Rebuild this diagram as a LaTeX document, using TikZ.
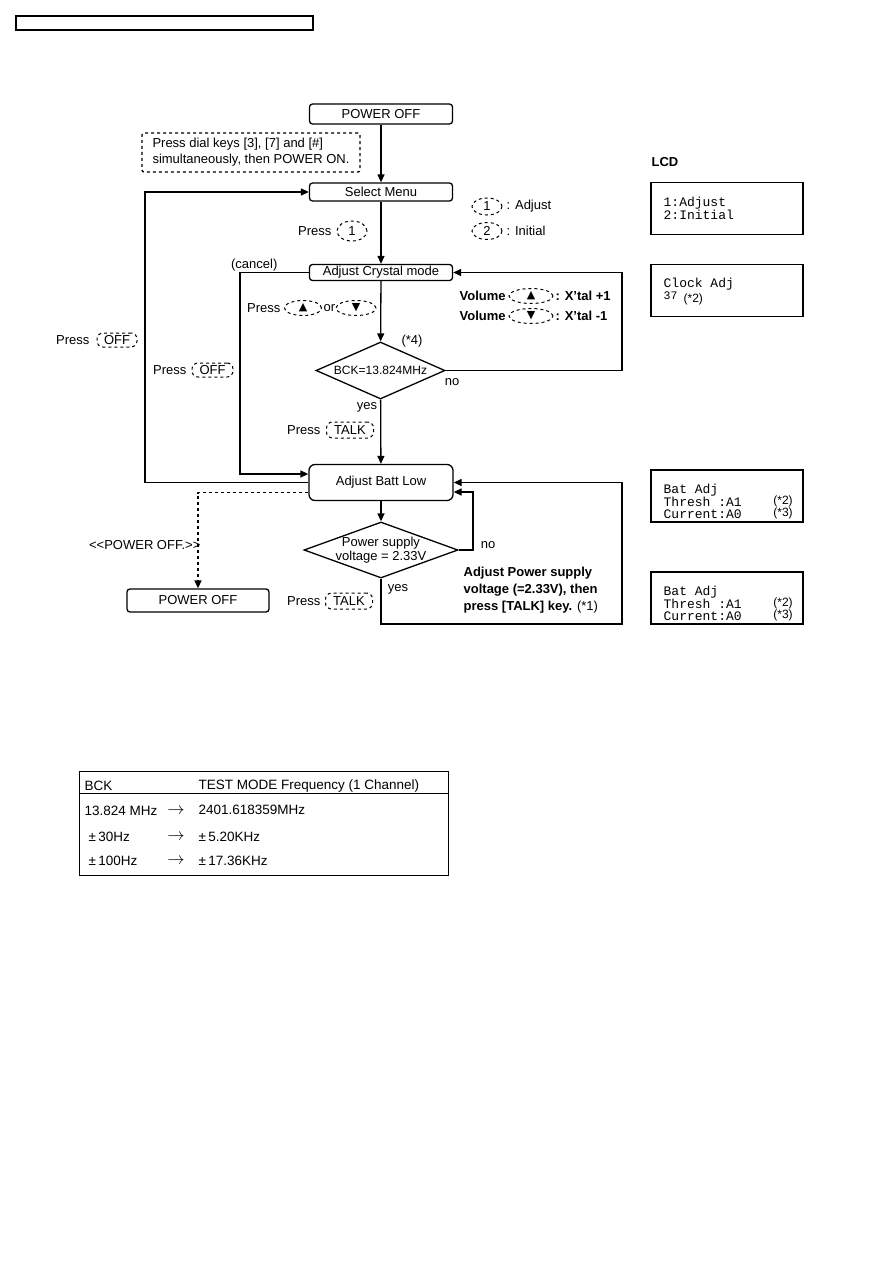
\documentclass[tikz,border=0pt]{standalone}
\usepackage{fontspec}
\setmainfont{Liberation Sans}
\setmonofont{Liberation Mono}
\newfontfamily\symfont{DejaVu Sans}
\usetikzlibrary{arrows.meta,shapes.geometric}
\newcommand{\symup}{{\symfont\fontsize{11}{11}\selectfont ▲}}
\newcommand{\symdn}{{\symfont\fontsize{11}{11}\selectfont ▼}}

\begin{document}
\begin{tikzpicture}[x=1pt,y=-1pt,>={Triangle[length=8pt,width=7pt]},line width=1.3pt,
 font=\fontsize{13}{14}\selectfont,
 lbl/.style={inner sep=0pt},
 bold/.style={font=\fontsize{13}{17}\selectfont\bfseries},
 stepbox/.style={draw,rounded corners=3pt,minimum width=143pt,minimum height=18pt,inner sep=0pt},
 decide/.style={draw,diamond,inner sep=0pt},
 keyoval/.style={draw,dashed,line width=1pt,ellipse,inner sep=0pt,minimum width=30pt,minimum height=17pt},
 keybtn/.style={draw,dashed,line width=1pt,rounded corners=6pt,inner sep=0pt,minimum width=42pt,minimum height=15pt},
 lcdbox/.style={draw,minimum width=152pt,minimum height=52pt,inner sep=0pt},
 lcdtxt/.style={font=\ttfamily\fontsize{13}{12}\selectfont,align=left,anchor=west,inner sep=0pt},
 note/.style={font=\fontsize{12}{13}\selectfont,inner sep=0pt},
 tabarrow/.style={inner sep=0pt,font=\fontsize{18}{18}\selectfont}]
\useasboundingbox (0,0) rectangle (893,1263);
\node[draw,minimum width=297pt,minimum height=14pt,inner sep=0pt] (header) at (164.5,23) {};

% flow chart
\node[stepbox,minimum height=20pt] (pwroff) at (381,114) {POWER OFF};
\node[draw,dashed,rounded corners=2pt,minimum width=218pt,minimum height=39pt,align=left,inner sep=0pt,font=\fontsize{13}{16}\selectfont] (dialnote) at (251,152.5) {Press dial keys [3], [7] and [\#]\\simultaneously, then POWER ON.};
\node[stepbox] (selmenu) at (381,192) {Select Menu};
\node[lbl,anchor=east] (press1) at (332,231) {Press};
\node[keyoval,minimum height=20pt] (key1) at (352,231) {1};
\node[keyoval] (legA) at (487,206.5) {1};
\node[lbl,anchor=west] (legAtxt) at (506,206.5) {: Adjust};
\node[keyoval] (legB) at (487,231) {2};
\node[lbl,anchor=west] (legBtxt) at (506,231) {: Initial};

\node[stepbox,minimum height=16pt] (crystal) at (381,272.5) {Adjust Crystal mode};
\node[lbl,anchor=east] (cancel) at (278,265) {(cancel)};
\node[lbl,anchor=east] (pressud) at (281,308) {Press};
\node[keyoval,minimum width=37pt,minimum height=15pt] (keyup) at (303,308) {\symup};
\node[lbl] (ortxt) at (329.5,308) {or};
\node[keyoval,minimum width=40pt,minimum height=15pt] (keydn) at (356,308) {\symdn};
\node[lbl,bold,anchor=west] (volA) at (459,296) {Volume};
\node[keyoval,minimum width=44pt,minimum height=15pt] (volAkey) at (531,296) {\symup};
\node[lbl,bold,anchor=west] (volAtxt) at (555,296) {: X’tal +1};
\node[lbl,bold,anchor=west] (volB) at (459,316) {Volume};
\node[keyoval,minimum width=44pt,minimum height=15pt] (volBkey) at (531,316) {\symdn};
\node[lbl,bold,anchor=west] (volBtxt) at (555,316) {: X’tal -1};

\node[decide,minimum width=129pt,minimum height=57pt] (bckdia) at (380.5,370.5) {};
\node[note] (bcktxt) at (bckdia) {BCK=13.824MHz};
\node[lbl] (star4) at (412,341) {(*4)};
\node[lbl] (no1) at (452,382) {no};
\node[lbl] (yes1) at (367,407) {yes};
\node[lbl,anchor=east] (pressT1) at (321,430) {Press};
\node[keybtn,minimum width=47pt,minimum height=16pt] (talk1) at (350,430) {TALK};
\node[lbl,anchor=east] (pressO1) at (90,340) {Press};
\node[keybtn,minimum width=40pt,minimum height=14pt] (offA) at (117,340) {OFF};
\node[lbl,anchor=east] (pressO2) at (187,370) {Press};
\node[keybtn,minimum width=41pt,minimum height=14pt] (offB) at (212.5,370) {OFF};

\node[stepbox,minimum width=144pt,minimum height=36pt,rounded corners=6pt] (battlow) at (381,482.5) {Adjust Batt Low};
\node[decide,minimum width=154pt,minimum height=56pt] (volt) at (381,550) {};
\node[align=center,inner sep=0pt] (volttxt) at (381,550) {Power supply\\voltage = 2.33V};
\node[lbl] (no2) at (488,545) {no};
\node[lbl] (yes2) at (398,589) {yes};
\node[lbl,anchor=east] (pressT2) at (321,601) {Press};
\node[keybtn,minimum width=47pt,minimum height=16pt] (talk2) at (349,601) {TALK};
\node[lbl,anchor=west,align=left,font=\fontsize{13}{17}\selectfont] (adjnote) at (463,590) {\textbf{Adjust Power supply}\\\textbf{voltage (=2.33V), then}\\\textbf{press [TALK] key.} (*1)};
\node[lbl,anchor=east] (offmsg) at (201,545) {<{}<POWER OFF.>{}>};
\node[stepbox,minimum width=142pt,minimum height=23pt] (pwroffb) at (198,600.5) {POWER OFF};

\draw[->] (pwroff) -- (selmenu);
\draw[->] (selmenu) -- (crystal);
\draw[->] (crystal) -- (bckdia);
\draw[->] (bckdia) -- (battlow);
\draw[->] (battlow) -- (volt);
\draw[->] (bckdia.east) -- (622,370.5) |- (crystal.east);
\draw[->] (crystal.west) -- (240,272.5) |- ([yshift=8.5pt]battlow.west);
\draw[->] (battlow.west) -- (145,482.5) |- (selmenu.west);
\draw[->,dashed] ([yshift=-10pt]battlow.west) -| (pwroffb.north);
\draw[->] (volt.east) -- (473,550) |- ([yshift=-9.5pt]battlow.east);
\draw[->] (volt.south) |- (622,624) |- (battlow.east);

% LCD
\node[lbl,bold,anchor=west] (lcdhead) at (651,162) {LCD};
\node[lcdbox] (lcdA) at (727,208.5) {};
\node[lcdtxt] (lcdAtxt) at (663,208.5) {1:Adjust\\2:Initial};
\node[lcdbox] (lcdB) at (727,290.5) {};
\node[lcdtxt] (lcdBtxt) at (663,284) {Clock Adj};
\node[lcdtxt,font=\ttfamily\fontsize{11.5}{11.5}\selectfont] (lcdBval) at (663,296) {37};
\node[note,anchor=west] (lcdBstar) at (683,299) {(*2)};
\node[lcdbox] (lcdC) at (727,496) {};
\node[lcdtxt,font=\ttfamily\fontsize{13}{12.5}\selectfont] (lcdCtxt) at (663,501.5) {Bat Adj\\Thresh :A1\\Current:A0};
\node[note] (lcdCs2) at (783,501) {(*2)};
\node[note] (lcdCs3) at (783,513) {(*3)};
\node[lcdbox] (lcdD) at (727,598) {};
\node[lcdtxt,font=\ttfamily\fontsize{13}{12.5}\selectfont] (lcdDtxt) at (663,603.5) {Bat Adj\\Thresh :A1\\Current:A0};
\node[note] (lcdDs2) at (783,603) {(*2)};
\node[note] (lcdDs3) at (783,615) {(*3)};

% frequency table
\begin{scope}[font=\fontsize{13.5}{15}\selectfont]
\node[draw,line width=1pt,minimum width=369pt,minimum height=104pt,inner sep=0pt] (freqtab) at (263.5,823) {};
\draw[line width=1pt] (freqtab.west |- 0,793) -- (freqtab.east |- 0,793);
\node[lbl,anchor=west] (thA) at (84,786) {BCK};
\node[lbl,anchor=west] (thB) at (198,786) {TEST MODE Frequency (1 Channel)};
\node[lbl,anchor=west] (rA1) at (84,811) {13.824 MHz};
\node[tabarrow] (rA2) at (176,811) {$\rightarrow$};
\node[lbl,anchor=west] (rA3) at (198,810) {2401.618359MHz};
\node[lbl,anchor=west] (rB1) at (88,837) {±\,30Hz};
\node[tabarrow] (rB2) at (176,837) {$\rightarrow$};
\node[lbl,anchor=west] (rB3) at (198,837) {±\,5.20KHz};
\node[lbl,anchor=west] (rC1) at (88,861) {±\,100Hz};
\node[tabarrow] (rC2) at (176,861) {$\rightarrow$};
\node[lbl,anchor=west] (rC3) at (198,861) {±\,17.36KHz};
\end{scope}
\end{tikzpicture}
\end{document}
